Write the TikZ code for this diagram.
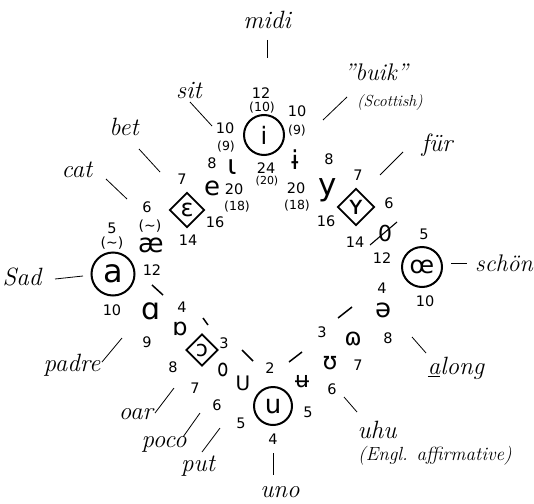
\documentclass[tikz,border=0pt]{standalone}
\usepackage{fontspec}
\usepackage{graphicx}
\newfontfamily\ipafont{DejaVu Sans}
\usetikzlibrary{shapes.geometric}
\begin{document}
\begin{tikzpicture}[x=1pt,y=-1pt,
  word/.style={font=\fontsize{25}{25}\selectfont\itshape, inner sep=0pt},
  note/.style={font=\fontsize{#1}{#1}\selectfont\itshape, inner sep=0pt},
  note/.default=15,
  num/.style={font=\ipafont\fontsize{14.5}{14.5}\selectfont, inner sep=0pt},
  pnum/.style={font=\ipafont\fontsize{#1}{#1}\selectfont, inner sep=0pt},
  pnum/.default=12.5,
  vow/.style={font=\ipafont\fontsize{#1}{#1}\selectfont, inner sep=0pt},
  vow/.default=24,
  ring/.style={circle, draw, line width=2pt, minimum size=#1, inner sep=0pt},
  dia/.style={diamond, draw, line width=1.8pt, minimum width=#1, minimum height=#1, inner sep=0pt},
  lead/.style={line width=0.8pt},
  tick/.style={line width=1.5pt}]
\useasboundingbox (0,0) rectangle (534,503);

% ringed and boxed vowels
\node[ring=40pt, vow=24] (i) at (264,135) {i};
\node[ring=43pt, vow=32] (a) at (113,274) {a};
\node[ring=40pt, vow=24] (oe) at (422,267) {œ};
\node[ring=38pt, vow=26] (u) at (273,406) {u};
\node[dia=35pt, vow=24] (eps) at (187,210) {ɛ};
\node[dia=37pt, vow=26] (Y) at (356,207) {ʏ};
\node[dia=32pt, vow=22] (opn) at (202,350) {ɔ};

% other vowels
\node[vow=27] (ih) at (232,167) {ɩ};
\node[vow=26] (ibar) at (295,160) {ɨ};
\node[vow=31] (y) at (328,190) {y};
\node[vow=26] (e) at (212,188) {e};
\node[vow=26] (ae) at (151,245) {æ};
\node[vow=30] (alpha) at (151,311) {ɑ};
\node[vow=24] (turna) at (180,329) {ɒ};
\node[vow=24] (o) at (223,370) {\scalebox{0.75}[1]{o}};
\node[vow=20] (U) at (243,383) {U};
\node[vow=22] (ubar) at (302,382) {ʉ};
\node[vow=24] (ups) at (330,363) {ʊ};
\node[vow=24] (om) at (353,339) {ɷ};
\node[vow=26] (schwa) at (383,310) {ə};
\node[vow=22] (oslash) at (385,233) {0};
\coordinate (os1) at (370,245);
\coordinate (os2) at (397,222);
\draw[line width=1.1pt] (os1) -- (os2);

% tildes
\node[pnum=14] (t1) at (112,243) {(∼)};
\node[pnum=14] (t2) at (150,226) {(∼)};

% numbers
\node[num] at (261,93) {12};
\node[pnum] at (262,108) {(10)};
\node[num] at (266,168) {24};
\node[pnum=11] at (267,181) {(20)};
\node[num] at (225,128) {10};
\node[pnum] at (226,147) {(9)};
\node[num] at (212,163) {8};
\node[num] at (234,189) {20};
\node[pnum] at (237,207) {(18)};
\node[num] at (297,111) {10};
\node[pnum] at (297,131) {(9)};
\node[num] at (296,188) {20};
\node[pnum] at (297,206) {(18)};
\node[num] at (329,159) {8};
\node[num] at (358,175) {7};
\node[num] at (389,203) {6};
\node[num] at (326,221) {16};
\node[num] at (355,242) {14};
\node[num] at (424,234) {5};
\node[num] at (382,258) {12};
\node[num] at (425,301) {10};
\node[num] at (382,288) {4};
\node[num] at (388,338) {8};
\node[num] at (322,332) {3};
\node[num] at (358,365) {7};
\node[num] at (332,389) {6};
\node[num] at (308,412) {5};
\node[num] at (270,368) {2};
\node[num] at (273,439) {4};
\node[num] at (241,423) {5};
\node[num] at (217,405) {6};
\node[num] at (195,388) {7};
\node[num] at (224,343) {3};
\node[num] at (173,367) {8};
\node[num] at (182,307) {4};
\node[num] at (147,342) {9};
\node[num] at (112,228) {5};
\node[num] at (112,310) {10};
\node[num] at (147,207) {6};
\node[num] at (152,270) {12};
\node[num] at (182,179) {7};
\node[num] at (215,222) {16};
\node[num] at (188,240) {14};

% words
\node[word] (midi) at (267,20) {midi};
\node[word] (sit) at (189,90) {sit};
\node[word, font=\fontsize{24}{24}\selectfont\itshape] (buik) at (376,72) {"buik"};
\node[note=16] (scot) at (390,103) {(Scottish)};
\node[word] (fur) at (437,145) {für};
\node[word] (bet) at (124,127) {bet};
\node[word] (cat) at (77,170) {cat};
\node[word, font=\fontsize{24}{24}\selectfont\itshape, anchor=west] (schon) at (475,263) {schön};
\node[word] (sad) at (22,277) {Sad};
\node[word] (padre) at (72,365) {padre};
\node[word] (along) at (456,368) {\underline{a}long};
\node[word] (oar) at (136,414) {oar};
\node[word] (poco) at (164,444) {poco};
\node[word] (put) at (198,466) {put};
\node[word] (uhu) at (377,430) {uhu};
\node[note=19] (engl) at (435,456) {(Engl. affirmative)};
\node[word] (uno) at (280,492) {uno};

% leader lines
\coordinate (l1a) at (267,40);  \coordinate (l1b) at (267,58);
\coordinate (l2a) at (190,102); \coordinate (l2b) at (212,126);
\coordinate (l3a) at (347,97);  \coordinate (l3b) at (323,120);
\coordinate (l4a) at (403,152); \coordinate (l4b) at (380,175);
\coordinate (l5a) at (139,149); \coordinate (l5b) at (160,172);
\coordinate (l6a) at (106,179); \coordinate (l6b) at (127,199);
\coordinate (l7a) at (55,279);  \coordinate (l7b) at (83,276);
\coordinate (l8a) at (451,263); \coordinate (l8b) at (467,263);
\coordinate (l9a) at (122,338); \coordinate (l9b) at (102,362);
\coordinate (l10a) at (412,337); \coordinate (l10b) at (426,353);
\coordinate (l11a) at (174,388); \coordinate (l11b) at (155,413);
\coordinate (l12a) at (200,413); \coordinate (l12b) at (183,437);
\coordinate (l13a) at (220,428); \coordinate (l13b) at (202,452);
\coordinate (l14a) at (344,397); \coordinate (l14b) at (357,412);
\coordinate (l15a) at (273,453); \coordinate (l15b) at (273,475);
\foreach \k in {1,...,15} {\draw[lead] (l\k a) -- (l\k b);}

% short strokes on the ring
\coordinate (s1a) at (152,285); \coordinate (s1b) at (163,295);
\coordinate (s2a) at (203,318); \coordinate (s2b) at (208,325);
\coordinate (s3a) at (242,350); \coordinate (s3b) at (253,361);
\coordinate (s4a) at (289,362); \coordinate (s4b) at (302,352);
\coordinate (s5a) at (338,318); \coordinate (s5b) at (352,307);
\foreach \k in {1,...,5} {\draw[tick] (s\k a) -- (s\k b);}
\end{tikzpicture}
\end{document}
